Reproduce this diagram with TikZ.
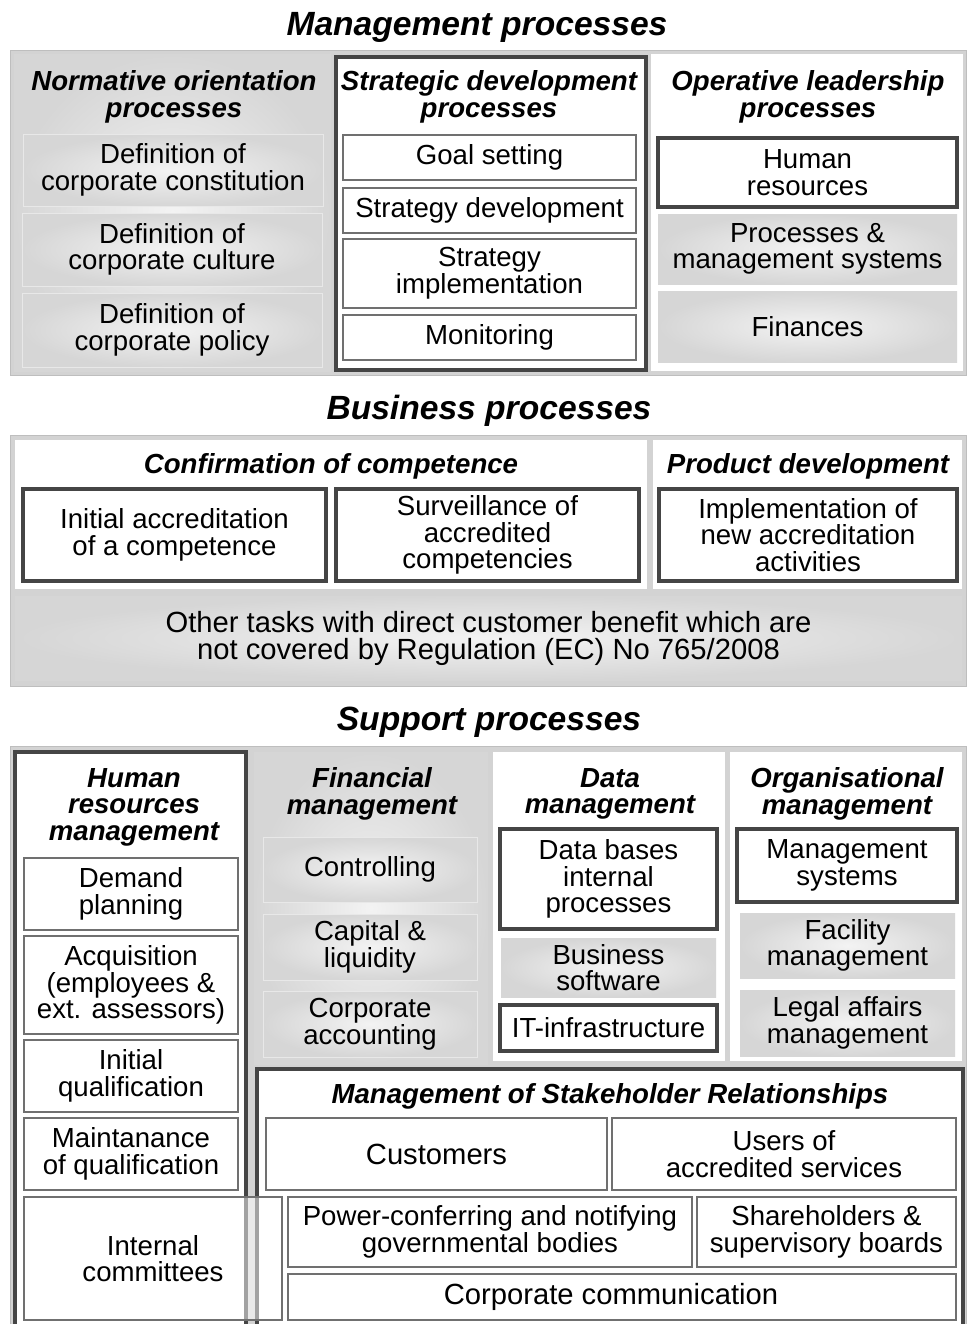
\documentclass[tikz,border=0pt]{standalone}
\usepackage{fontspec}
\setmainfont{Liberation Sans}

\definecolor{panelgray}{HTML}{D3D3D3}
\definecolor{darkline}{HTML}{454545}
\definecolor{thinline}{HTML}{707070}
\definecolor{shadein}{HTML}{F3F3F3}
\definecolor{shadeout}{HTML}{D6D6D6}

\newcommand\boxfont{\fontsize{13.8}{13.3}\selectfont}
\newcommand\bigboxfont{\fontsize{14.6}{13.5}\selectfont}
\newcommand\headfont{\fontsize{13.8}{13.3}\selectfont\bfseries\itshape}
\newcommand\titlefont{\fontsize{16.8}{18}\selectfont\bfseries\itshape}

\tikzset{
  % Groesse in Pixeln
  sz/.style 2 args={minimum width=#1*.5pt,minimum height=#2*.5pt},
  % Rahmen und Spalten
  panel/.style={fill=panelgray,draw=panelgray!90!black,line width=.4pt,inner sep=0pt},
  colwhite/.style={fill=white,inner sep=0pt},
  colgray/.style={inner color=shadein,outer color=shadeout,inner sep=0pt},
  % Kaesten
  heavybox/.style={draw=darkline,line width=2.3pt,fill=white,inner sep=0pt,align=center,font=\boxfont},
  thinbox/.style={draw=thinline,line width=.7pt,fill=white,inner sep=0pt,align=center,font=\boxfont},
  graybox/.style={inner color=shadein,outer color=shadeout,inner sep=0pt,align=center,font=\boxfont},
  softbox/.style={graybox,draw=white!82!gray,line width=.5pt},
  % Ueberschriften
  head/.style={font=\headfont,align=center,inner sep=0pt},
  title/.style={font=\titlefont,inner sep=0pt}
}

\begin{document}
\begin{tikzpicture}[x=0.5pt,y=-0.5pt]
  \useasboundingbox (0,0) rectangle (967,1324);
  \clip (0,0) rectangle (967,1324);

  %--- Management processes
  \node[title] (mgmtT) at (477,27) {Management processes};
  \node[panel,sz={956}{325}] (mgmt) at (488,212.5) {};

  \node[colgray,sz={317}{317}] (norm) at (172.5,212.5) {};
  \node[head] (normT) at (174,97) {Normative orientation\\processes};
  \node[softbox,sz={300}{72}] (constitution) at (173,170) {Definition of\\corporate constitution};
  \node[softbox,sz={300}{73}] (culture) at (172,249.5) {Definition of\\corporate culture};
  \node[softbox,sz={300}{74}] (policy) at (172,330) {Definition of\\corporate policy};

  \node[heavybox,sz={310}{313}] (strat) at (491,213.5) {};
  \node[head] (stratT) at (489,97) {Strategic development\\processes};
  \node[thinbox,sz={293}{45}] (goal) at (489.5,157.5) {Goal setting};
  \node[thinbox,sz={293}{45}] (stratdev) at (489.5,210.5) {Strategy development};
  \node[thinbox,sz={293}{69}] (stratimpl) at (489.5,273.5) {Strategy\\implementation};
  \node[thinbox,sz={293}{45}] (monitor) at (489.5,337.5) {Monitoring};

  \node[colwhite,sz={312}{317}] (oper) at (807,212.5) {};
  \node[head] (operT) at (808,97) {Operative leadership\\processes};
  \node[heavybox,sz={299}{69}] (hr) at (807.5,172.5) {Human\\resources};
  \node[graybox,sz={299}{70}] (procsys) at (807.5,249) {Processes \&\\management systems};
  \node[graybox,sz={299}{71}] (finances) at (807.5,326.5) {Finances};

  %--- Business processes
  \node[title] (busT) at (489,411) {Business processes};
  \node[panel,sz={956}{251}] (bus) at (488,560.5) {};

  \node[colwhite,sz={632}{149}] (confirm) at (331,514.5) {};
  \node[head] (confirmT) at (331,466) {Confirmation of competence};
  \node[heavybox,sz={303}{92}] (initacc) at (174.5,535) {Initial accreditation\\of a competence};
  \node[heavybox,sz={303}{92}] (surveil) at (487.5,535) {Surveillance of\\accredited\\competencies};

  \node[colwhite,sz={309}{149}] (product) at (807.5,514.5) {};
  \node[head] (productT) at (808,466) {Product development};
  \node[heavybox,sz={298}{92}] (newact) at (808,535) {Implementation of\\new accreditation\\activities};

  \node[graybox,font=\bigboxfont,sz={947}{84}] (other) at (488.5,638) {Other tasks with direct customer benefit which are\\not covered by Regulation (EC) No 765/2008};

  %--- Support processes
  \node[title] (supT) at (489,722) {Support processes};
  \node[panel,sz={956}{594}] (sup) at (488,1043) {};

  \node[heavybox,sz={231}{588}] (hrm) at (130.5,1046) {};
  \node[head] (hrmT) at (134,807) {Human\\resources\\management};
  \node[thinbox,sz={214}{72}] (demand) at (131,894) {Demand\\planning};
  \node[thinbox,sz={214}{98}] (acquis) at (131,985) {Acquisition\\(employees \&\\ext. assessors)};
  \node[thinbox,sz={214}{72}] (initq) at (131,1076) {Initial\\qualification};
  \node[thinbox,sz={214}{72}] (maintq) at (131,1154) {Maintanance\\of qualification};

  \node[colgray,sz={234}{312}] (fin) at (371,908) {};
  \node[head] (finT) at (372,794) {Financial\\management};
  \node[softbox,sz={214}{65}] (control) at (370,869.5) {Controlling};
  \node[softbox,sz={214}{66}] (capital) at (370,947) {Capital \&\\liquidity};
  \node[softbox,sz={214}{66}] (account) at (370,1024) {Corporate\\accounting};

  \node[colwhite,sz={232}{309}] (data) at (609,906.5) {};
  \node[head] (dataT) at (610,794) {Data\\management};
  \node[heavybox,sz={217}{100}] (dbases) at (608.5,879) {Data bases\\internal\\processes};
  \node[graybox,sz={215}{59}] (software) at (608.5,967.5) {Business\\software};
  \node[heavybox,sz={217}{46}] (infra) at (608.5,1028) {IT-infrastructure};

  \node[colwhite,sz={232}{309}] (org) at (846,906.5) {};
  \node[head] (orgT) at (847,794) {Organisational\\management};
  \node[heavybox,sz={220}{73}] (mgmtsys) at (847,865.5) {Management\\systems};
  \node[graybox,sz={215}{65}] (facility) at (847.5,945.5) {Facility\\management};
  \node[graybox,sz={215}{66}] (legal) at (847.5,1023) {Legal affairs\\management};

  \node[heavybox,sz={706}{271}] (stake) at (610,1204.5) {};
  \node[head] (stakeT) at (610,1096) {Management of Stakeholder Relationships};
  \node[thinbox,font=\bigboxfont,sz={341}{72}] (customers) at (436.5,1154) {Customers};
  \node[thinbox,sz={344}{72}] (users) at (784,1154) {Users of\\accredited services};
  \node[thinbox,sz={404}{70}] (powers) at (490,1232) {Power-conferring and notifying\\governmental bodies};
  \node[thinbox,sz={259}{70}] (sharehold) at (826.5,1232) {Shareholders \&\\supervisory boards};
  \node[thinbox,font=\bigboxfont,sz={668}{46}] (comm) at (622,1297) {Corporate communication\hspace*{11pt}};

  %--- Ueberlappung links unten
  \node[thinbox,fill opacity=.5,text opacity=1,sz={258}{123}] (committees) at (153,1258.5) {Internal\\committees};
\end{tikzpicture}
\end{document}
